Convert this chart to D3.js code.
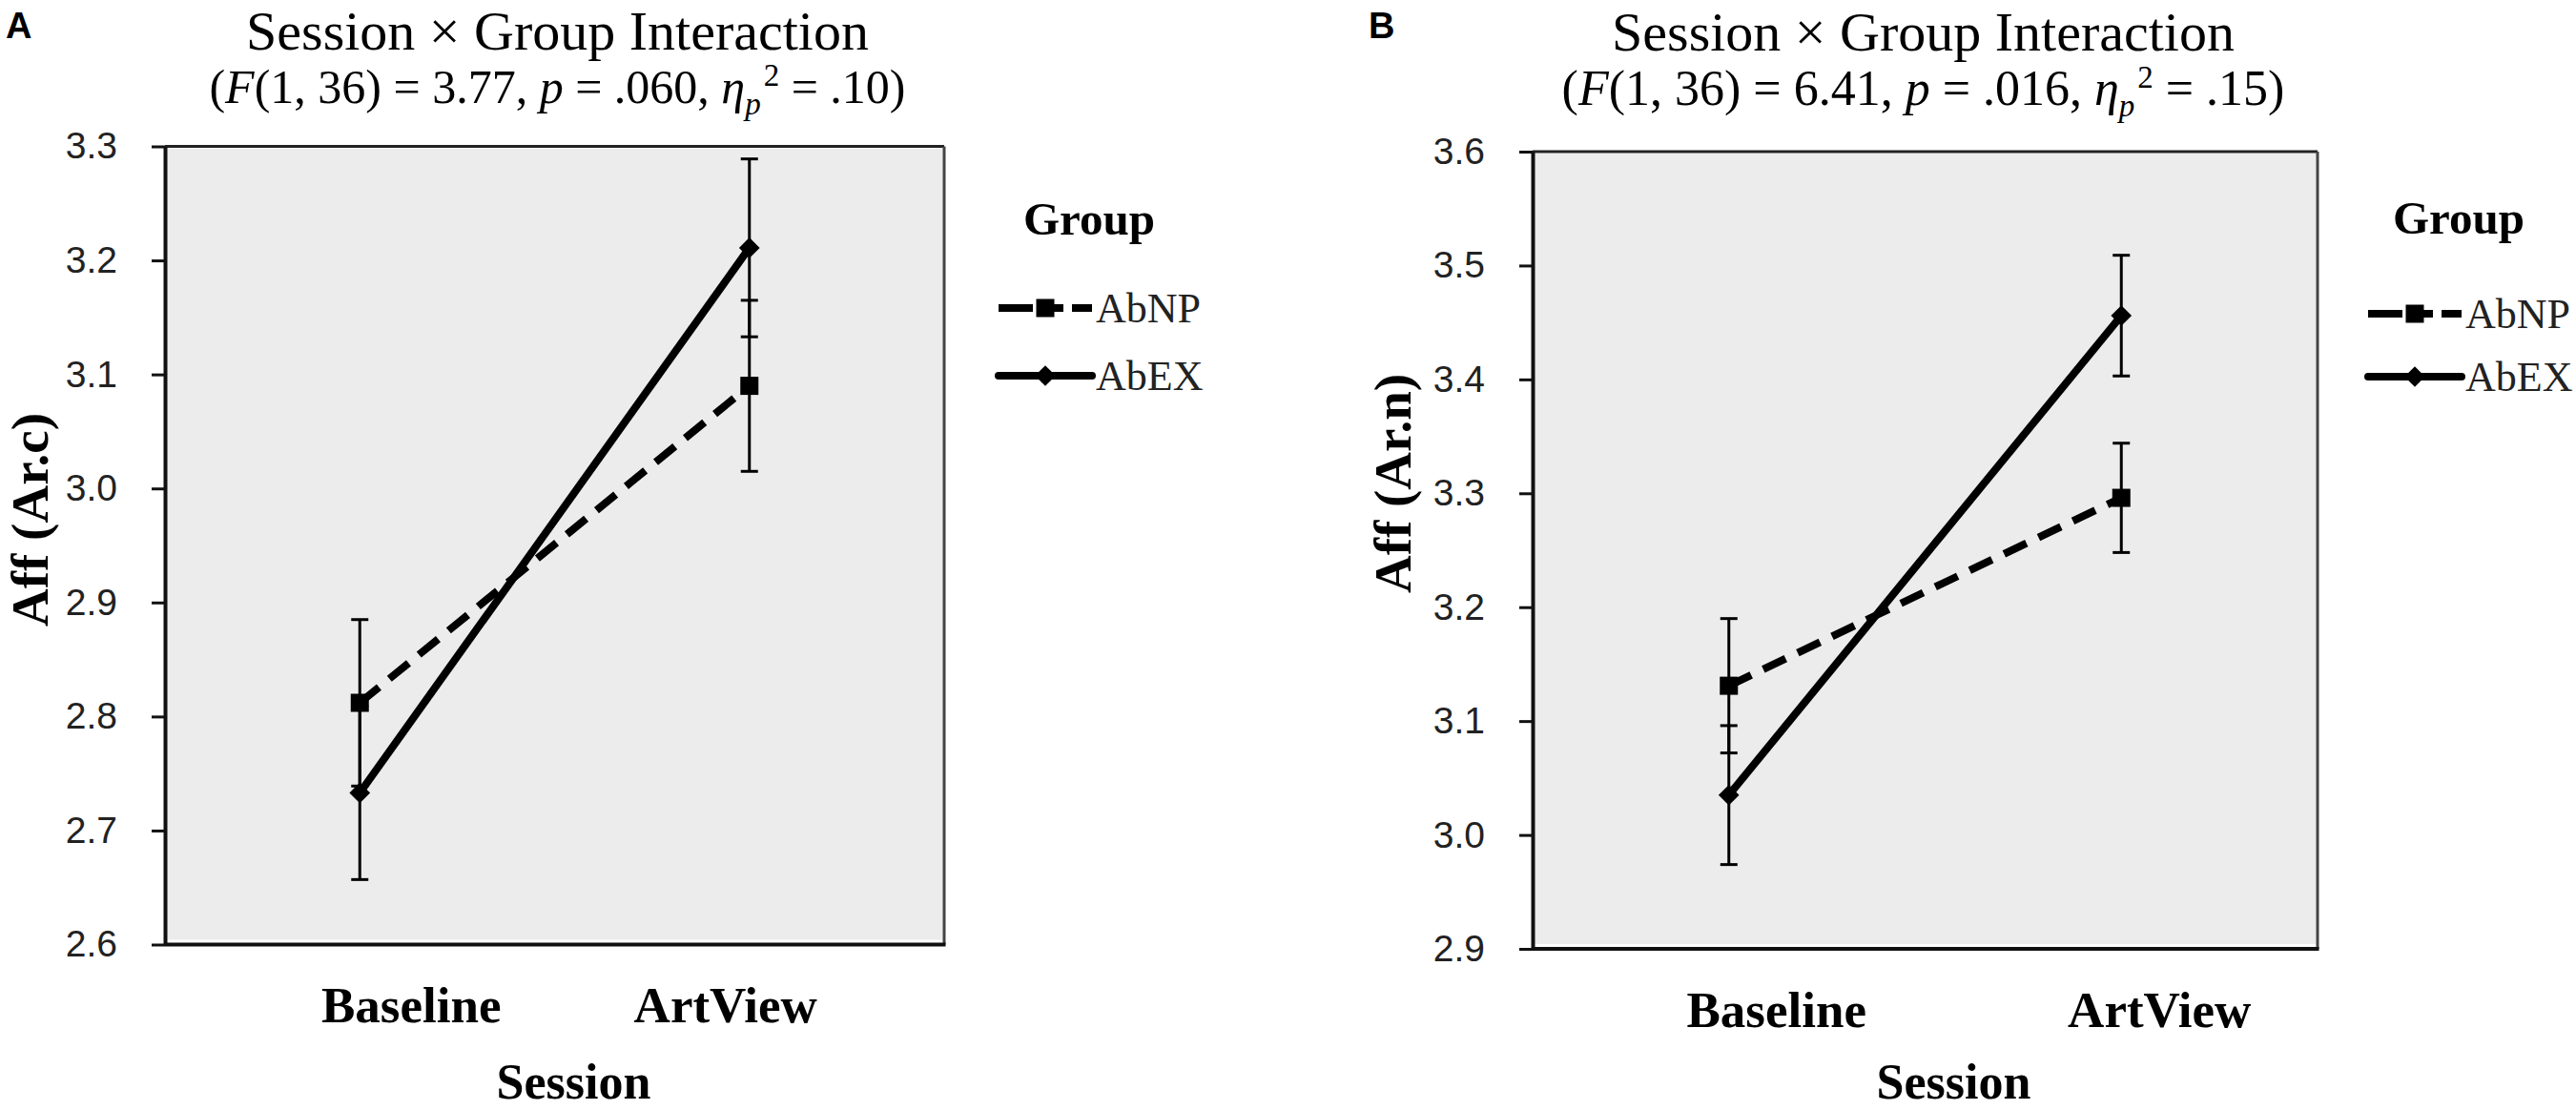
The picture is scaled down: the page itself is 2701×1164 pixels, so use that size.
<!DOCTYPE html>
<html>
<head>
<meta charset="utf-8">
<script src="https://cdn.jsdelivr.net/npm/d3@7"></script>
<style>
  html, body { margin: 0; padding: 0; background: #fff; }
  svg { display: block; }
</style>
</head>
<body>
<svg id="chart" width="2701" height="1164"></svg>
<script>
// ---------------- DATA ----------------
const sessions = ["Baseline", "ArtView"];
const groups = ["AbNP", "AbEX"];

const yTicksA = [2.6, 2.7, 2.8, 2.9, 3.0, 3.1, 3.2, 3.3];
const yTicksB = [2.9, 3.0, 3.1, 3.2, 3.3, 3.4, 3.5, 3.6];

const abnpMeanA = [2.812, 3.090];
const abnpErrA  = [0.073, 0.075];
const abexMeanA = [2.733, 3.211];
const abexErrA  = [0.076, 0.078];

const abnpMeanB = [3.131, 3.296];
const abnpErrB  = [0.059, 0.048];
const abexMeanB = [3.035, 3.456];
const abexErrB  = [0.061, 0.053];

const titleText = "Session × Group Interaction";
const statsA = ["3.77", ".060", ".10"];
const statsB = ["6.41", ".016", ".15"];
const yLabelA = "Aff (Ar.c)";
const yLabelB = "Aff (Ar.n)";
const xLabel = "Session";
const legendTitle = "Group";

// ---------------- LAYOUT ----------------
const panels = [
  {
    letter: "A", stats: statsA, yLabel: yLabelA, ticks: yTicksA,
    means: [abnpMeanA, abexMeanA], errs: [abnpErrA, abexErrA],
    left: 173, right: 990, top: 153.5, bottom: 990.5,
    letterX: 6, titleY: 52, subY: 108, titleDx: 3, subSize: 50,
    catBaseline: 1072, catShift: [54, -25],
    xTitleY: 1152, xTitleDx: 20,
    yTitleX: 50, yTitleY: 545,
    legX: 1047, legTitleY: 246, legRows: [323, 394]
  },
  {
    letter: "B", stats: statsB, yLabel: yLabelB, ticks: yTicksB,
    means: [abnpMeanB, abexMeanB], errs: [abnpErrB, abexErrB],
    left: 1607, right: 2430, top: 159, bottom: 995,
    letterX: 1435, titleY: 53, subY: 110, titleDx: -2, subSize: 52,
    catBaseline: 1077, catShift: [50, 40],
    xTitleY: 1152, xTitleDx: 30,
    yTitleX: 1479, yTitleY: 507,
    legX: 2483, legTitleY: 245, legRows: [329, 395]
  }
];

const serif = "'Liberation Serif', 'Times New Roman', serif";
const sans = "'Liberation Sans', Arial, sans-serif";
const dashPattern = "26,14";
const lineStyles = [dashPattern, null];

const svg = d3.select("#chart");

function marker(g, type, cx, cy) {
  if (type === 0) {
    g.append("rect")
      .attr("x", cx - 9.5).attr("y", cy - 9.5)
      .attr("width", 19).attr("height", 19)
      .attr("fill", "#000");
  } else {
    g.append("path")
      .attr("d", d3.symbol().type(d3.symbolDiamond2).size(300)())
      .attr("transform", `translate(${cx},${cy})`)
      .attr("fill", "#000");
  }
}

panels.forEach(p => {
  const g = svg.append("g");
  const x = d3.scalePoint().domain(sessions).range([p.left, p.right]).padding(0.5);
  const y = d3.scaleLinear().domain([p.ticks[0], p.ticks[p.ticks.length - 1]]).range([p.bottom, p.top]);
  const cx = (p.left + p.right) / 2;

  // panel letter
  g.append("text").attr("x", p.letterX).attr("y", 40)
    .attr("font-family", sans).attr("font-weight", "bold").attr("font-size", 38)
    .attr("fill", "#000").text(p.letter);

  // title
  g.append("text").attr("x", cx + p.titleDx).attr("y", p.titleY)
    .attr("text-anchor", "middle").attr("font-family", serif).attr("font-size", 58)
    .attr("fill", "#000").text(titleText);

  // subtitle with italics / sub / superscript
  const st = g.append("text").attr("x", cx + p.titleDx).attr("y", p.subY)
    .attr("text-anchor", "middle").attr("font-family", serif).attr("font-size", p.subSize)
    .attr("fill", "#000");
  st.append("tspan").text("(");
  st.append("tspan").attr("font-style", "italic").text("F");
  st.append("tspan").text(`(1, 36) = ${p.stats[0]}, `);
  st.append("tspan").attr("font-style", "italic").text("p");
  st.append("tspan").text(` = ${p.stats[1]}, `);
  st.append("tspan").attr("font-style", "italic").text("η");
  st.append("tspan").attr("font-style", "italic").attr("font-size", 33).attr("dy", 12).text("p");
  st.append("tspan").attr("font-size", 33).attr("dy", -30).attr("dx", 3).text("2");
  st.append("tspan").attr("dy", 18).text(` = ${p.stats[2]})`);

  // plot background
  g.append("rect")
    .attr("x", p.left + 2).attr("y", p.top + 2)
    .attr("width", p.right - p.left - 3).attr("height", p.bottom - p.top - 7)
    .attr("fill", "#ececec");

  // top and right border
  g.append("line").attr("x1", p.left).attr("x2", p.right).attr("y1", p.top).attr("y2", p.top)
    .attr("stroke", "#222").attr("stroke-width", 3);
  g.append("line").attr("x1", p.right).attr("x2", p.right).attr("y1", p.top).attr("y2", p.bottom)
    .attr("stroke", "#444").attr("stroke-width", 3);

  // y axis
  const yAxis = d3.axisLeft(y).tickValues(p.ticks).tickFormat(d3.format(".1f"))
    .tickSize(14).tickSizeOuter(0).tickPadding(36);
  const ya = g.append("g").attr("transform", `translate(${p.left},0)`).call(yAxis);
  ya.select(".domain").attr("stroke", "#111").attr("stroke-width", 4);
  ya.selectAll(".tick line").attr("stroke", "#111").attr("stroke-width", 3);
  ya.selectAll(".tick text").attr("font-family", sans).attr("font-size", 39)
    .attr("fill", "#222");

  // bottom axis line
  g.append("line").attr("x1", p.left).attr("x2", p.right + 1.5)
    .attr("y1", y(p.ticks[0])).attr("y2", y(p.ticks[0]))
    .attr("stroke", "#111").attr("stroke-width", 4);

  // error bars
  groups.forEach((grp, gi) => {
    sessions.forEach((s, si) => {
      const m = p.means[gi][si], e = p.errs[gi][si];
      const xx = x(s);
      g.append("line").attr("x1", xx).attr("x2", xx).attr("y1", y(m - e)).attr("y2", y(m + e))
        .attr("stroke", "#000").attr("stroke-width", 3);
      [m - e, m + e].forEach(v => {
        g.append("line").attr("x1", xx - 9).attr("x2", xx + 9).attr("y1", y(v)).attr("y2", y(v))
          .attr("stroke", "#000").attr("stroke-width", 3);
      });
    });
  });

  // lines
  const line = d3.line().x((d, i) => x(sessions[i])).y(d => y(d));
  groups.forEach((grp, gi) => {
    const path = g.append("path").attr("d", line(p.means[gi]))
      .attr("fill", "none").attr("stroke", "#000").attr("stroke-width", 8)
      .attr("stroke-linejoin", "round");
    if (lineStyles[gi]) path.attr("stroke-dasharray", lineStyles[gi]);
  });

  // markers
  groups.forEach((grp, gi) => {
    sessions.forEach((s, si) => marker(g, gi, x(s), y(p.means[gi][si])));
  });

  // category labels
  sessions.forEach((s, si) => {
    g.append("text").attr("x", x(s) + p.catShift[si]).attr("y", p.catBaseline)
      .attr("text-anchor", "middle").attr("font-family", serif).attr("font-weight", "bold")
      .attr("font-size", 53).attr("fill", "#000").text(s);
  });

  // x title
  g.append("text").attr("x", cx + p.xTitleDx).attr("y", p.xTitleY)
    .attr("text-anchor", "middle").attr("font-family", serif).attr("font-weight", "bold")
    .attr("font-size", 52).attr("fill", "#000").text(xLabel);

  // y title
  g.append("text").attr("transform", `translate(${p.yTitleX},${p.yTitleY}) rotate(-90)`)
    .attr("text-anchor", "middle").attr("font-family", serif).attr("font-weight", "bold")
    .attr("font-size", 55).attr("fill", "#000").text(p.yLabel);

  // legend
  g.append("text").attr("x", p.legX + 26).attr("y", p.legTitleY)
    .attr("font-family", serif).attr("font-weight", "bold").attr("font-size", 49)
    .attr("fill", "#000").text(legendTitle);
  groups.forEach((grp, gi) => {
    const ly = p.legRows[gi];
    const l = g.append("line").attr("x1", p.legX).attr("x2", p.legX + 98)
      .attr("y1", ly).attr("y2", ly).attr("stroke", "#000").attr("stroke-width", 8);
    if (lineStyles[gi]) l.attr("stroke-dasharray", "36,4,28,9,21");
    else l.attr("stroke-linecap", "round");
    marker(g, gi, p.legX + 49, ly);
    g.append("text").attr("x", p.legX + 102).attr("y", ly + 15)
      .attr("font-family", serif).attr("font-size", 44).attr("fill", "#222").text(grp);
  });
});
</script>
</body>
</html>
